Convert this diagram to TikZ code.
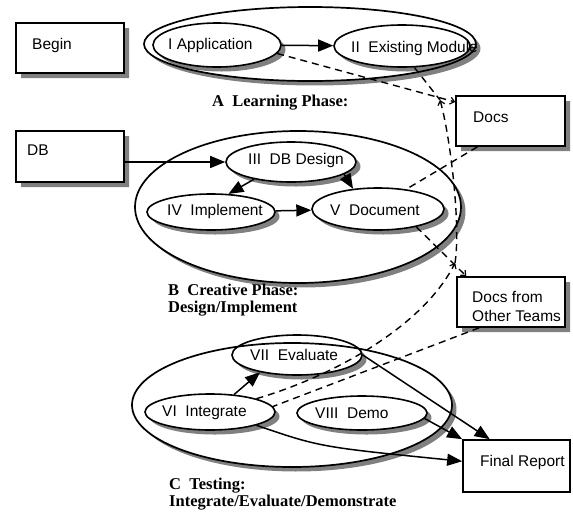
\documentclass[tikz,border=0pt]{standalone}
\usepackage{fontspec}
\setmainfont{Liberation Serif}
\setsansfont{Liberation Sans}
\usetikzlibrary{shapes.geometric,arrows.meta,calc}
\definecolor{shadecol}{RGB}{128,128,128}
\newcommand{\mkshadE}[4]{%
  \pgfmathsetmacro\shadTa{-atan(#4/#3)}%
  \pgfmathsetmacro\shadTb{180-atan(#4/#3)}%
  \fill[shadowc] plot[domain=\shadTa:\shadTb,samples=72,variable=\t] ({#1+4.5+#3*cos(\t)},{#2+4.5+#4*sin(\t)}) -- plot[domain=\shadTb:\shadTa,samples=72,variable=\t] ({#1+#3*cos(\t)},{#2+#4*sin(\t)}) -- cycle;}
\newcommand{\mkshadR}[4]{%
  \fill[shadowc] (#3,{#2+5}) -- ({#3+5},{#2+5}) -- ({#3+5},{#4+5}) -- ({#1+5},{#4+5}) -- ({#1+5},#4) -- (#3,#4) -- cycle;}
\begin{document}
\begin{tikzpicture}[x=1pt,y=-1pt,
  shadowc/.style={fill=shadecol,draw=none},
  box/.style={draw=black,line width=1.7pt,minimum width=108pt,minimum height=50pt,inner sep=0pt},
  oval/.style={draw=black,line width=1.6pt,ellipse,inner sep=0pt},
  phase/.style={draw=black,line width=1.7pt,ellipse,inner sep=0pt},
  txt/.style={anchor=west,inner sep=0pt,font=\sffamily\fontsize{15.5}{19}\selectfont},
  lbl/.style={anchor=west,inner sep=0pt,align=left,font=\bfseries\fontsize{16.5}{17}\selectfont},
  arr/.style={line width=1.5pt,-{Triangle[length=15pt,width=12pt]}},
  dsh/.style={line width=1.4pt,dash pattern=on 7pt off 5pt},
  barb/.style={-{Straight Barb[length=4pt,width=7pt,line width=1.2pt]}}
]
\useasboundingbox (0,0) rectangle (573,512);
% shadows
\mkshadR{16}{23}{124}{73}
\mkshadR{16}{131}{124}{182}
\mkshadR{456}{96}{565}{146}
\mkshadR{457}{277}{565}{327}
\mkshadE{310}{44}{166}{37}
\mkshadE{298}{207}{163}{76}
\mkshadE{292}{405}{160}{62}
\mkshadE{217}{45}{64}{22}
\mkshadE{402}{46}{68}{21}
\mkshadE{291}{162}{65}{20}
\mkshadE{211}{212}{64}{18}
\mkshadE{378}{209}{66}{21}
\mkshadE{297}{355}{65}{20}
\mkshadE{210}{412}{65}{18}
\mkshadE{362}{413}{65}{17}
% boxes
\node[box] (Begin) at (70,48) {};
\node[box,minimum height=51pt] (DB) at (70,156.5) {};
\node[box,minimum width=109pt] (Docs) at (510.5,121) {};
\node[box] (Other) at (511,302) {};
\node[box,minimum width=107pt,minimum height=52pt] (FR) at (516.5,466) {};
% ellipses
\node[phase,minimum width=332pt,minimum height=74pt] (A) at (310,44) {};
\node[oval,minimum width=128pt,minimum height=44pt] (IApp) at (217,45) {};
\node[oval,minimum width=136pt,minimum height=42pt] (II) at (402,46) {};
\node[phase,minimum width=326pt,minimum height=152pt] (B) at (298,207) {};
\node[oval,minimum width=130pt,minimum height=40pt] (III) at (291,162) {};
\node[oval,minimum width=128pt,minimum height=36pt] (IV) at (211,212) {};
\node[oval,minimum width=132pt,minimum height=42pt] (V) at (378,209) {};
\node[phase,minimum width=320pt,minimum height=124pt] (C) at (292,405) {};
\node[oval,minimum width=130pt,minimum height=40pt] (VII) at (297,355) {};
\node[oval,minimum width=130pt,minimum height=36pt] (VI) at (210,412) {};
\node[oval,minimum width=130pt,minimum height=34pt] (VIII) at (362,413) {};
% texts
\node[txt] (tBegin) at (32,45) {Begin};
\node[txt] (tDB) at (27,150) {DB};
\node[txt] (tDocs) at (473,117) {Docs};
\node[txt,align=left] (tOther) at (472,306.5) {Docs from\\Other Teams};
\node[txt] (tFR) at (480,462) {Final Report};
\node[txt] (tI) at (168,45) {I Application};
\node[txt] (tII) at (351,48) {II~ Existing Module};
\node[txt] (tIII) at (248,160) {III~ DB Design};
\node[txt] (tIV) at (167,211) {IV~ Implement};
\node[txt] (tV) at (330,210) {V~ Document};
\node[txt] (tVII) at (250,355) {VII~ Evaluate};
\node[txt] (tVI) at (162,413) {VI~ Integrate};
\node[txt] (tVIII) at (315,413) {VIII~ Demo};
% phase labels
\node[lbl] (lA) at (212,103) {A~ Learning Phase:};
\node[lbl] (lB) at (168,300) {B~ Creative Phase:\\Design/Implement};
\node[lbl] (lC) at (169,494) {C~ Testing:\\Integrate/Evaluate/Demonstrate};
% solid arrows
\draw[arr] (IApp) -- (II);
\draw[arr] (DB.east |- III.west) -- (III.west);
\draw[arr] (III.205) -- (IV.46);
\draw[arr] (III.-13) -- (V.141);
\draw[arr] (IV) -- (V);
\draw[arr] (VI.36) -- (VII.205);
\draw[arr] (VII.east) -- (FR.135);
\draw[arr] (VIII.-5) -- (FR.north west);
\draw[arr] (VI.-16) .. controls (320,447) .. (FR.175);
% dashed connectors
\coordinate (k1) at (440,100);
\coordinate (k2) at (455,263);
\draw[dsh,barb] (IApp.-8) -- (Docs.161);
\draw[dsh] (Docs.218) -- (V.35);
\draw[dsh] (II.-60) -- (k1);
\draw[dsh,barb] (k2) .. controls (461,225) and (450,135) .. (k1);
\draw[dsh,barb] (VI.16) .. controls (340,374) and (425,323) .. (k2);
\draw[dsh,barb] (V.-25) -- (Other.150);
\draw[dsh] (Other.219) -- (VI.5);
\end{tikzpicture}
\end{document}
